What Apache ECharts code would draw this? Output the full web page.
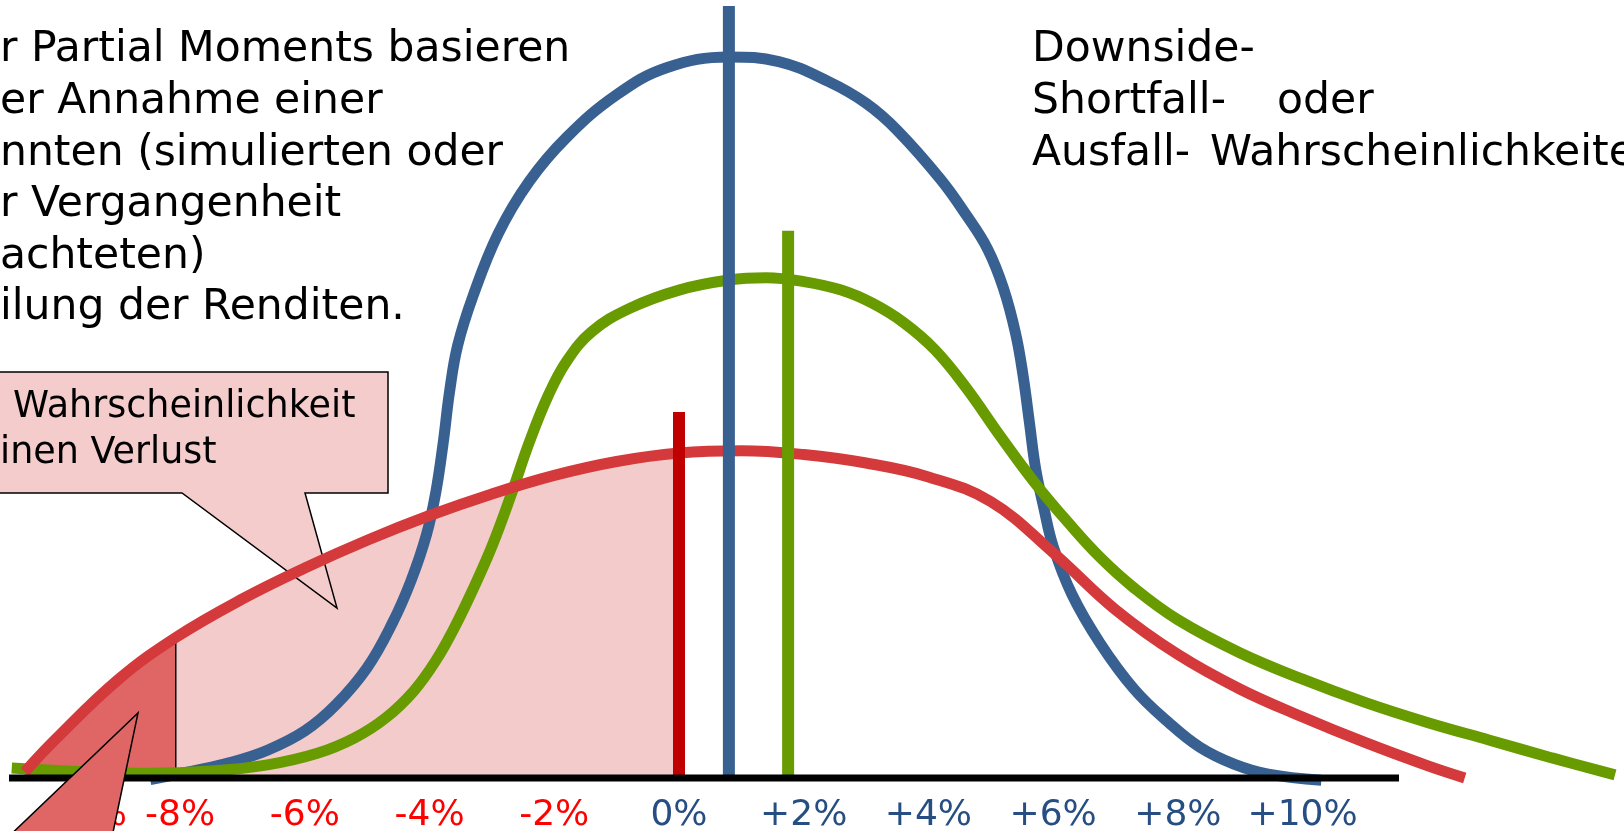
<!DOCTYPE html>
<html>
<head>
<meta charset="utf-8">
<script src="https://cdn.jsdelivr.net/npm/echarts@6/dist/echarts.min.js"></script>
<style>
  html, body { margin: 0; padding: 0; background: #ffffff; }
  #chart { width: 1624px; height: 831px; }
</style>
</head>
<body>
<div id="chart"></div>
<script>
// Renditen (in %) und relative Dichte (0–100) der drei Verteilungen
const blueX = [-8.48, -7.8, -7.2, -6.6, -6.0, -5.5, -5.0, -4.6, -4.3, -4.05, -3.9, -3.78, -3.68, -3.55, -3.3, -2.9, -2.4, -1.8, -1.0, -0.2, 0.8, 1.6, 2.4, 3.0, 3.5, 4.2, 4.6, 4.95, 5.2, 5.4, 5.52, 5.62, 5.72, 5.85, 6.0, 6.3, 6.75, 7.3, 7.85, 8.35, 8.9, 9.45, 10.3];
const blueY = [-0.2, 0.9, 2.0, 3.6, 6.1, 9.5, 14.3, 20.0, 25.5, 31.5, 37.0, 43.5, 50.0, 56.0, 62.5, 70.5, 77.3, 83.0, 88.5, 92.0, 93.4, 92.8, 90.2, 87.4, 83.9, 77.5, 73.0, 68.5, 63.5, 57.5, 52.0, 46.0, 40.0, 35.0, 30.0, 23.8, 17.5, 11.5, 7.2, 4.0, 1.8, 0.5, -0.3];

const greenX = [-10.70, -9.5, -8.5, -7.5, -6.6, -5.8, -5.2, -4.7, -4.25, -3.9, -3.6, -3.3, -3.0, -2.7, -2.4, -2.1, -1.8, -1.4, -0.8, 0.0, 0.8, 1.4, 2.0, 2.6, 3.1, 3.6, 4.1, 4.6, 5.15, 5.7, 6.25, 6.75, 7.3, 8.0, 9.0, 10.0, 11.0, 12.0, 13.0, 14.0, 15.01];
const greenY = [1.3, 0.8, 0.6, 0.9, 1.7, 3.2, 5.2, 7.8, 11.3, 15.2, 19.5, 24.5, 30.0, 36.5, 43.5, 49.5, 54.0, 57.8, 60.8, 63.2, 64.5, 64.8, 64.3, 63.2, 61.5, 59.0, 55.5, 50.6, 44.3, 38.3, 33.0, 28.6, 24.6, 20.5, 16.2, 12.8, 9.8, 7.2, 4.9, 2.6, 0.4];

const redX = [-10.49, -10.0, -9.0, -8.07, -7.0, -6.0, -5.0, -4.0, -3.0, -2.0, -1.0, 0, 1.0, 2.0, 3.0, 4.0, 5.0, 6.0, 7.0, 8.0, 9.0, 10.0, 11.0, 12.0, 12.6];
const redY = [0.8, 5.0, 12.7, 18.2, 23.2, 27.2, 30.8, 34.0, 36.8, 39.2, 41.0, 42.1, 42.4, 41.9, 40.8, 39.0, 35.8, 29.2, 21.8, 16.0, 11.5, 7.9, 4.6, 1.6, 0];

// Mittelwerte (rot, blau, grün) und Höhe ihrer Markierungslinien
const meanX = [0, 0.8, 1.75];
const meanTop = [47.4, 100, 70.9];

// Zielrendite (Verlustgrenze) und Shortfall-Grenze
const targetReturn = 0;
const shortfallCut = -8.07;

// Renditeachse: sichtbarer Bereich der Grundlinie und Beschriftungen
const baselineFrom = -10.744;
const baselineTo = 11.546;
const tickValues = [-10, -8, -6, -4, -2, 0, 2, 4, 6, 8, 10];

const FONT = '"DejaVu Sans", Verdana, sans-serif';
const BLUE = '#386191';
const GREEN = '#679b00';
const RED = '#d4393b';
const RED_MEAN = '#c00000';
const PINK = '#f3cbcb';
const DARK_RED = '#e06666';

const zip = (xs, ys) => xs.map((x, i) => [x, ys[i]]);
const redData = zip(redX, redY);
const lossArea = redData.filter(p => p[0] <= targetReturn);
const shortfallArea = redData.filter(p => p[0] <= shortfallCut);
const shortfallHeight = redY[redX.indexOf(shortfallCut)];

const SMOOTH = 0.4;

function curve(name, data, color, z) {
  return {
    name, type: 'line', data, smooth: SMOOTH, symbol: 'none', clip: false, silent: true, z,
    lineStyle: { color, width: 11, cap: 'butt' }
  };
}
function vline(name, x, top, color, width, z) {
  return {
    name, type: 'line', data: [[x, 0], [x, top]], symbol: 'none', clip: false, silent: true, z,
    lineStyle: { color, width, cap: 'butt' }
  };
}

const chart = echarts.init(document.getElementById('chart'), null, { renderer: 'canvas' });

const option = {
  backgroundColor: '#ffffff',
  animation: false,
  grid: { left: 9, right: 0, top: 6, bottom: 53, containLabel: false, outerBoundsMode: 'none' },
  xAxis: {
    type: 'value',
    min: baselineFrom,
    max: 15.154,
    splitLine: { show: false },
    axisTick: { show: false },
    axisLine: { show: false },
    axisLabel: {
      customValues: tickValues,
      margin: 20,
      fontSize: 36,
      fontFamily: FONT,
      color: v => (v < 0 ? '#ff0000' : '#264e82'),
      formatter: v => {
        const txt = (v > 0 ? '+' : '') + v + '%';
        return v === tickValues[0] ? '{far|' + txt + '}' : txt;
      },
      rich: {
        far: { fontSize: 36, fontFamily: FONT, color: '#ff0000', padding: [0, 0, 0, 50] }
      }
    }
  },
  yAxis: { type: 'value', min: 0, max: 100, show: false },
  series: [
    {
      name: 'Verlustwahrscheinlichkeit', type: 'line', data: lossArea, smooth: SMOOTH,
      symbol: 'none', silent: true, z: 0,
      lineStyle: { width: 0 }, areaStyle: { color: PINK, opacity: 1 }
    },
    {
      name: 'Shortfall', type: 'line', data: shortfallArea, smooth: SMOOTH,
      symbol: 'none', silent: true, z: 0,
      lineStyle: { width: 0 }, areaStyle: { color: DARK_RED, opacity: 1 }
    },
    vline('Shortfall-Grenze', shortfallCut, shortfallHeight, '#000000', 1.5, 1),
    curve('Verteilung A', zip(blueX, blueY), BLUE, 2),
    curve('Verteilung B', zip(greenX, greenY), GREEN, 2),
    curve('Verteilung C', redData, RED, 2),
    vline('Mittelwert C', meanX[0], meanTop[0], RED_MEAN, 12, 3),
    vline('Mittelwert A', meanX[1], meanTop[1], BLUE, 12, 3),
    vline('Mittelwert B', meanX[2], meanTop[2], GREEN, 12, 3),
    {
      name: 'Grundlinie', type: 'line', data: [[baselineFrom, 0], [baselineTo, 0]],
      symbol: 'none', clip: false, silent: true, z: 4,
      lineStyle: { color: '#000000', width: 7, cap: 'butt' }
    }
  ],
  graphic: [
    // Sprechblase "Wahrscheinlichkeit für einen Verlust"
    {
      type: 'polygon', z: 1, silent: true,
      shape: { points: [[-5, 372], [388, 372], [388, 493], [305, 493], [337, 608], [182, 493], [-5, 493]] },
      style: { fill: '#f4cccc', stroke: '#000000', lineWidth: 1.5 }
    },
    {
      type: 'text', z: 1, silent: true,
      style: { text: 'Wahrscheinlichkeit', x: 13, y: 386, fontSize: 36.5, fontFamily: FONT, fill: '#000000', lineHeight: 44, verticalAlign: 'top' }
    },
    {
      type: 'text', z: 1, silent: true,
      style: { text: 'inen Verlust', x: 0, y: 432, fontSize: 36.5, fontFamily: FONT, fill: '#000000', lineHeight: 44, verticalAlign: 'top' }
    },
    // Zeiger auf die Shortfall-Fläche
    {
      type: 'polygon', z: 10, silent: true,
      shape: { points: [[3, 842], [138, 713], [111, 842]] },
      style: { fill: DARK_RED, stroke: '#000000', lineWidth: 1.5 }
    },
    // Erläuterungstext oben links
    {
      type: 'text', z: 1, silent: true,
      style: {
        text: 'r Partial Moments basieren\ner Annahme einer\nnnten (simulierten oder\nr Vergangenheit\nachteten)\nilung der Renditen.',
        x: 0, y: 24.5, fontSize: 42.5, fontFamily: FONT, fill: '#000000', lineHeight: 51.6, verticalAlign: 'top'
      }
    },
    // Erläuterungstext oben rechts
    {
      type: 'text', z: 1, silent: true,
      style: {
        text: 'Downside-\nShortfall-\nAusfall-',
        x: 1032, y: 24.5, fontSize: 42.5, fontFamily: FONT, fill: '#000000', lineHeight: 51.6, verticalAlign: 'top'
      }
    },
    {
      type: 'text', z: 1, silent: true,
      style: { text: 'oder', x: 1277, y: 76.1, fontSize: 42.5, fontFamily: FONT, fill: '#000000', lineHeight: 51.6, verticalAlign: 'top' }
    },
    {
      type: 'text', z: 1, silent: true,
      style: { text: 'Wahrscheinlichkeite', x: 1210, y: 127.7, fontSize: 42.5, fontFamily: FONT, fill: '#000000', lineHeight: 51.6, verticalAlign: 'top' }
    }
  ]
};

chart.setOption(option);
</script>
</body>
</html>
